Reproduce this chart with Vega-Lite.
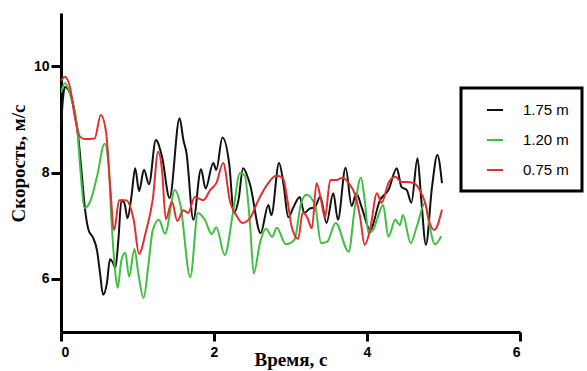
{
  "$schema": "https://vega.github.io/schema/vega-lite/v6.json",
  "autosize": {"type": "none"},
  "width": 459,
  "height": 319,
  "padding": {"left": 61, "top": 13, "right": 67, "bottom": 39},
  "background": "white",
  "config": {"view": {"stroke": null}},
  "data": {"values": [
    {"s":"1.75 m","t":0.00,"v":8.86},{"s":"1.75 m","t":0.03,"v":9.45},{"s":"1.75 m","t":0.05,"v":9.61},{"s":"1.75 m","t":0.12,"v":9.49},{"s":"1.75 m","t":0.18,"v":9.12},{"s":"1.75 m","t":0.23,"v":8.61},{"s":"1.75 m","t":0.27,"v":7.99},{"s":"1.75 m","t":0.31,"v":7.36},{"s":"1.75 m","t":0.36,"v":6.92},{"s":"1.75 m","t":0.42,"v":6.77},{"s":"1.75 m","t":0.47,"v":6.54},{"s":"1.75 m","t":0.51,"v":6.11},{"s":"1.75 m","t":0.55,"v":5.70},{"s":"1.75 m","t":0.60,"v":5.92},{"s":"1.75 m","t":0.64,"v":6.37},{"s":"1.75 m","t":0.68,"v":6.30},{"s":"1.75 m","t":0.71,"v":6.20},{"s":"1.75 m","t":0.75,"v":6.73},{"s":"1.75 m","t":0.79,"v":7.48},{"s":"1.75 m","t":0.83,"v":7.42},{"s":"1.75 m","t":0.87,"v":7.14},{"s":"1.75 m","t":0.92,"v":7.54},{"s":"1.75 m","t":0.97,"v":8.08},{"s":"1.75 m","t":1.02,"v":7.65},{"s":"1.75 m","t":1.085,"v":8.05},{"s":"1.75 m","t":1.15,"v":7.78},{"s":"1.75 m","t":1.24,"v":8.61},{"s":"1.75 m","t":1.32,"v":8.30},{"s":"1.75 m","t":1.42,"v":7.52},{"s":"1.75 m","t":1.55,"v":9.02},{"s":"1.75 m","t":1.60,"v":8.61},{"s":"1.75 m","t":1.64,"v":8.37},{"s":"1.75 m","t":1.73,"v":7.11},{"s":"1.75 m","t":1.83,"v":8.06},{"s":"1.75 m","t":1.89,"v":7.70},{"s":"1.75 m","t":1.99,"v":8.18},{"s":"1.75 m","t":2.03,"v":8.05},{"s":"1.75 m","t":2.11,"v":8.66},{"s":"1.75 m","t":2.20,"v":8.15},{"s":"1.75 m","t":2.26,"v":7.24},{"s":"1.75 m","t":2.32,"v":7.48},{"s":"1.75 m","t":2.38,"v":8.08},{"s":"1.75 m","t":2.47,"v":7.78},{"s":"1.75 m","t":2.61,"v":6.86},{"s":"1.75 m","t":2.71,"v":7.39},{"s":"1.75 m","t":2.75,"v":7.20},{"s":"1.75 m","t":2.85,"v":8.18},{"s":"1.75 m","t":2.91,"v":7.77},{"s":"1.75 m","t":2.97,"v":7.16},{"s":"1.75 m","t":3.04,"v":7.35},{"s":"1.75 m","t":3.12,"v":7.54},{"s":"1.75 m","t":3.18,"v":7.24},{"s":"1.75 m","t":3.25,"v":7.32},{"s":"1.75 m","t":3.32,"v":7.35},{"s":"1.75 m","t":3.39,"v":7.55},{"s":"1.75 m","t":3.47,"v":7.05},{"s":"1.75 m","t":3.56,"v":7.61},{"s":"1.75 m","t":3.62,"v":7.11},{"s":"1.75 m","t":3.72,"v":8.09},{"s":"1.75 m","t":3.80,"v":7.37},{"s":"1.75 m","t":3.86,"v":7.61},{"s":"1.75 m","t":3.93,"v":7.35},{"s":"1.75 m","t":4.04,"v":6.92},{"s":"1.75 m","t":4.17,"v":7.48},{"s":"1.75 m","t":4.28,"v":7.67},{"s":"1.75 m","t":4.39,"v":8.08},{"s":"1.75 m","t":4.45,"v":7.73},{"s":"1.75 m","t":4.52,"v":7.67},{"s":"1.75 m","t":4.58,"v":7.43},{"s":"1.75 m","t":4.66,"v":8.27},{"s":"1.75 m","t":4.71,"v":7.48},{"s":"1.75 m","t":4.77,"v":6.64},{"s":"1.75 m","t":4.85,"v":7.73},{"s":"1.75 m","t":4.92,"v":8.33},{"s":"1.75 m","t":4.98,"v":7.80},
    {"s":"1.20 m","t":0.00,"v":9.50},{"s":"1.20 m","t":0.05,"v":9.68},{"s":"1.20 m","t":0.14,"v":9.36},{"s":"1.20 m","t":0.21,"v":8.86},{"s":"1.20 m","t":0.25,"v":8.11},{"s":"1.20 m","t":0.31,"v":7.33},{"s":"1.20 m","t":0.38,"v":7.45},{"s":"1.20 m","t":0.47,"v":7.92},{"s":"1.20 m","t":0.57,"v":8.54},{"s":"1.20 m","t":0.62,"v":8.18},{"s":"1.20 m","t":0.66,"v":7.10},{"s":"1.20 m","t":0.71,"v":6.11},{"s":"1.20 m","t":0.74,"v":5.83},{"s":"1.20 m","t":0.79,"v":6.35},{"s":"1.20 m","t":0.84,"v":6.49},{"s":"1.20 m","t":0.89,"v":6.04},{"s":"1.20 m","t":0.96,"v":6.56},{"s":"1.20 m","t":1.01,"v":6.11},{"s":"1.20 m","t":1.08,"v":5.64},{"s":"1.20 m","t":1.14,"v":6.23},{"s":"1.20 m","t":1.20,"v":6.92},{"s":"1.20 m","t":1.28,"v":7.11},{"s":"1.20 m","t":1.36,"v":6.85},{"s":"1.20 m","t":1.49,"v":7.67},{"s":"1.20 m","t":1.56,"v":7.40},{"s":"1.20 m","t":1.69,"v":6.03},{"s":"1.20 m","t":1.79,"v":7.24},{"s":"1.20 m","t":1.88,"v":7.11},{"s":"1.20 m","t":1.97,"v":6.84},{"s":"1.20 m","t":2.03,"v":6.97},{"s":"1.20 m","t":2.14,"v":6.45},{"s":"1.20 m","t":2.25,"v":7.26},{"s":"1.20 m","t":2.34,"v":7.99},{"s":"1.20 m","t":2.40,"v":7.95},{"s":"1.20 m","t":2.47,"v":7.05},{"s":"1.20 m","t":2.52,"v":6.10},{"s":"1.20 m","t":2.60,"v":6.67},{"s":"1.20 m","t":2.68,"v":6.94},{"s":"1.20 m","t":2.76,"v":6.79},{"s":"1.20 m","t":2.82,"v":6.96},{"s":"1.20 m","t":2.94,"v":6.65},{"s":"1.20 m","t":3.05,"v":6.73},{"s":"1.20 m","t":3.14,"v":7.43},{"s":"1.20 m","t":3.21,"v":7.58},{"s":"1.20 m","t":3.32,"v":7.39},{"s":"1.20 m","t":3.40,"v":6.67},{"s":"1.20 m","t":3.48,"v":6.70},{"s":"1.20 m","t":3.59,"v":7.05},{"s":"1.20 m","t":3.76,"v":6.51},{"s":"1.20 m","t":3.84,"v":7.33},{"s":"1.20 m","t":3.92,"v":7.90},{"s":"1.20 m","t":3.97,"v":7.48},{"s":"1.20 m","t":4.02,"v":6.86},{"s":"1.20 m","t":4.08,"v":6.92},{"s":"1.20 m","t":4.13,"v":7.11},{"s":"1.20 m","t":4.21,"v":7.39},{"s":"1.20 m","t":4.28,"v":6.79},{"s":"1.20 m","t":4.37,"v":7.11},{"s":"1.20 m","t":4.43,"v":7.01},{"s":"1.20 m","t":4.47,"v":7.20},{"s":"1.20 m","t":4.57,"v":6.67},{"s":"1.20 m","t":4.65,"v":6.98},{"s":"1.20 m","t":4.76,"v":7.43},{"s":"1.20 m","t":4.81,"v":7.05},{"s":"1.20 m","t":4.89,"v":6.65},{"s":"1.20 m","t":4.97,"v":6.80},
    {"s":"0.75 m","t":0.00,"v":9.72},{"s":"0.75 m","t":0.05,"v":9.80},{"s":"0.75 m","t":0.12,"v":9.59},{"s":"0.75 m","t":0.18,"v":9.05},{"s":"0.75 m","t":0.25,"v":8.67},{"s":"0.75 m","t":0.31,"v":8.63},{"s":"0.75 m","t":0.44,"v":8.64},{"s":"0.75 m","t":0.52,"v":9.08},{"s":"0.75 m","t":0.59,"v":8.75},{"s":"0.75 m","t":0.64,"v":7.80},{"s":"0.75 m","t":0.695,"v":6.92},{"s":"0.75 m","t":0.76,"v":7.48},{"s":"0.75 m","t":0.85,"v":7.48},{"s":"0.75 m","t":0.92,"v":7.29},{"s":"0.75 m","t":0.95,"v":7.11},{"s":"0.75 m","t":1.02,"v":6.47},{"s":"0.75 m","t":1.11,"v":6.89},{"s":"0.75 m","t":1.20,"v":7.50},{"s":"0.75 m","t":1.27,"v":8.39},{"s":"0.75 m","t":1.32,"v":8.05},{"s":"0.75 m","t":1.37,"v":7.12},{"s":"0.75 m","t":1.45,"v":7.45},{"s":"0.75 m","t":1.52,"v":7.09},{"s":"0.75 m","t":1.60,"v":7.29},{"s":"0.75 m","t":1.66,"v":7.24},{"s":"0.75 m","t":1.75,"v":7.54},{"s":"0.75 m","t":1.86,"v":7.48},{"s":"0.75 m","t":1.95,"v":7.67},{"s":"0.75 m","t":2.03,"v":7.80},{"s":"0.75 m","t":2.12,"v":8.18},{"s":"0.75 m","t":2.21,"v":7.45},{"s":"0.75 m","t":2.29,"v":7.20},{"s":"0.75 m","t":2.37,"v":7.05},{"s":"0.75 m","t":2.47,"v":7.14},{"s":"0.75 m","t":2.58,"v":7.48},{"s":"0.75 m","t":2.70,"v":7.78},{"s":"0.75 m","t":2.81,"v":7.94},{"s":"0.75 m","t":2.90,"v":7.90},{"s":"0.75 m","t":2.96,"v":7.48},{"s":"0.75 m","t":3.02,"v":6.95},{"s":"0.75 m","t":3.10,"v":6.75},{"s":"0.75 m","t":3.16,"v":7.25},{"s":"0.75 m","t":3.22,"v":7.15},{"s":"0.75 m","t":3.28,"v":6.95},{"s":"0.75 m","t":3.34,"v":7.80},{"s":"0.75 m","t":3.40,"v":7.48},{"s":"0.75 m","t":3.45,"v":7.15},{"s":"0.75 m","t":3.52,"v":7.86},{"s":"0.75 m","t":3.60,"v":7.86},{"s":"0.75 m","t":3.68,"v":7.90},{"s":"0.75 m","t":3.76,"v":7.80},{"s":"0.75 m","t":3.84,"v":7.60},{"s":"0.75 m","t":3.91,"v":7.16},{"s":"0.75 m","t":3.97,"v":6.64},{"s":"0.75 m","t":4.04,"v":6.92},{"s":"0.75 m","t":4.13,"v":7.61},{"s":"0.75 m","t":4.19,"v":7.43},{"s":"0.75 m","t":4.28,"v":7.80},{"s":"0.75 m","t":4.37,"v":7.92},{"s":"0.75 m","t":4.45,"v":7.82},{"s":"0.75 m","t":4.52,"v":7.82},{"s":"0.75 m","t":4.61,"v":7.80},{"s":"0.75 m","t":4.69,"v":7.67},{"s":"0.75 m","t":4.76,"v":7.43},{"s":"0.75 m","t":4.82,"v":7.05},{"s":"0.75 m","t":4.88,"v":6.92},{"s":"0.75 m","t":4.98,"v":7.30}
  ]},
  "mark": {"type": "line", "interpolate": "monotone", "strokeWidth": 2, "clip": true},
  "encoding": {
    "x": {
      "field": "t", "type": "quantitative",
      "scale": {"domain": [0, 6], "nice": false, "zero": false},
      "axis": {
        "title": "Время, с", "values": [0, 2, 4, 6], "grid": false,
        "domainColor": "black", "domainWidth": 3, "tickColor": "black", "tickWidth": 3, "tickSize": 9,
        "labelFont": "Liberation Sans", "labelFontWeight": "bold", "labelFontSize": 14, "labelColor": "black", "labelPadding": 4,
        "titleFont": "Liberation Serif", "titleFontWeight": "bold", "titleFontSize": 19, "titleColor": "black",
        "titleBaseline": "alphabetic", "titleY": 33
      }
    },
    "y": {
      "field": "v", "type": "quantitative",
      "scale": {"domain": [5, 11], "nice": false, "zero": false},
      "axis": {
        "title": "Скорость, м/с", "values": [6, 8, 10], "grid": false,
        "domainColor": "black", "domainWidth": 3, "tickColor": "black", "tickWidth": 3, "tickSize": 10,
        "labelFont": "Liberation Sans", "labelFontWeight": "bold", "labelFontSize": 14, "labelColor": "black", "labelPadding": 2,
        "titleFont": "Liberation Serif", "titleFontWeight": "bold", "titleFontSize": 19, "titleColor": "black",
        "titleBaseline": "middle", "titleAlign": "center", "titleAngle": -90, "titleX": -43, "titleY": 150
      }
    },
    "color": {
      "field": "s", "type": "nominal",
      "scale": {"domain": ["1.75 m", "1.20 m", "0.75 m"], "range": ["#111111", "#3fbf3f", "#e03030"]},
      "sort": ["1.75 m", "1.20 m", "0.75 m"],
      "legend": {
        "title": null, "orient": "none", "legendX": 400, "legendY": 75,
        "strokeColor": "black", "padding": 13, "fillColor": "white",
        "symbolType": "stroke", "symbolSize": 256, "symbolStrokeWidth": 2, "symbolOffset": 12,
        "labelFont": "Liberation Sans", "labelFontSize": 15, "labelColor": "black", "labelOffset": 19,
        "rowPadding": 13,
        "encode": {"legend": {"update": {"strokeWidth": {"value": 3}}}}
      }
    }
  }
}
